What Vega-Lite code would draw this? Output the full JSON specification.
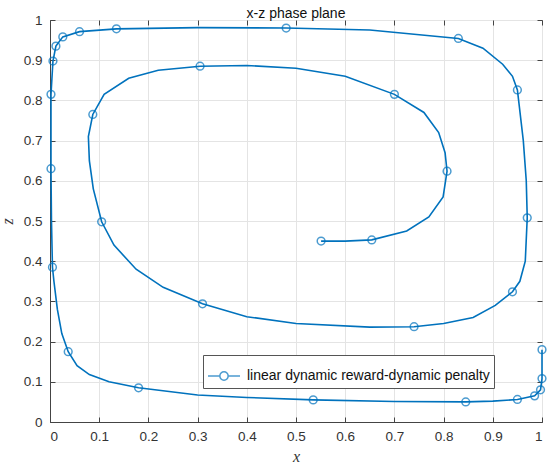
{
  "$schema": "https://vega.github.io/schema/vega-lite/v6.json",
  "autosize": {"type": "none"},
  "padding": {"left": 50, "top": 20, "right": 8, "bottom": 48},
  "width": 492,
  "height": 402,
  "background": "white",
  "title": {
    "text": "x-z phase plane",
    "font": "Liberation Sans",
    "fontSize": 14,
    "fontWeight": "normal",
    "color": "#111111",
    "offset": 4,
    "dy": 12
  },
  "config": {
    "view": {"stroke": "#444444", "strokeWidth": 1},
    "axis": {
      "labelFont": "Liberation Sans",
      "labelFontSize": 13.5,
      "labelColor": "#333333",
      "titleFont": "Liberation Serif",
      "titleFontStyle": "italic",
      "titleFontWeight": "normal",
      "titleFontSize": 16,
      "titleColor": "#333333",
      "domainColor": "#444444",
      "tickColor": "#444444",
      "tickWidth": 1,
      "gridColor": "#e4e4e4",
      "gridWidth": 1
    }
  },
  "datasets": {
    "traj": [
      {"i": 1, "x": 1.0, "z": 0.18, "m": true},
      {"i": 2, "x": 1.0, "z": 0.108, "m": true},
      {"i": 3, "x": 0.997, "z": 0.08, "m": true},
      {"i": 4, "x": 0.985, "z": 0.065, "m": true},
      {"i": 5, "x": 0.95, "z": 0.056, "m": true},
      {"i": 6, "x": 0.9, "z": 0.052, "m": false},
      {"i": 7, "x": 0.845, "z": 0.05, "m": true},
      {"i": 8, "x": 0.7, "z": 0.051, "m": false},
      {"i": 9, "x": 0.535, "z": 0.055, "m": true},
      {"i": 10, "x": 0.4, "z": 0.061, "m": false},
      {"i": 11, "x": 0.3, "z": 0.067, "m": false},
      {"i": 12, "x": 0.18, "z": 0.085, "m": true},
      {"i": 13, "x": 0.12, "z": 0.1, "m": false},
      {"i": 14, "x": 0.08, "z": 0.118, "m": false},
      {"i": 15, "x": 0.055, "z": 0.14, "m": false},
      {"i": 16, "x": 0.037, "z": 0.175, "m": true},
      {"i": 17, "x": 0.024, "z": 0.22, "m": false},
      {"i": 18, "x": 0.015, "z": 0.28, "m": false},
      {"i": 19, "x": 0.008, "z": 0.35, "m": false},
      {"i": 20, "x": 0.005, "z": 0.385, "m": true},
      {"i": 21, "x": 0.003, "z": 0.5, "m": false},
      {"i": 22, "x": 0.002, "z": 0.63, "m": true},
      {"i": 23, "x": 0.002, "z": 0.815, "m": true},
      {"i": 24, "x": 0.006, "z": 0.898, "m": true},
      {"i": 25, "x": 0.012, "z": 0.935, "m": true},
      {"i": 26, "x": 0.026, "z": 0.958, "m": true},
      {"i": 27, "x": 0.06, "z": 0.971, "m": true},
      {"i": 28, "x": 0.135, "z": 0.978, "m": true},
      {"i": 29, "x": 0.3, "z": 0.981, "m": false},
      {"i": 30, "x": 0.48, "z": 0.98, "m": true},
      {"i": 31, "x": 0.65, "z": 0.975, "m": false},
      {"i": 32, "x": 0.83, "z": 0.954, "m": true},
      {"i": 33, "x": 0.88, "z": 0.93, "m": false},
      {"i": 34, "x": 0.92, "z": 0.89, "m": false},
      {"i": 35, "x": 0.94, "z": 0.86, "m": false},
      {"i": 36, "x": 0.95, "z": 0.826, "m": true},
      {"i": 37, "x": 0.962, "z": 0.7, "m": false},
      {"i": 38, "x": 0.968, "z": 0.6, "m": false},
      {"i": 39, "x": 0.97, "z": 0.508, "m": true},
      {"i": 40, "x": 0.966, "z": 0.4, "m": false},
      {"i": 41, "x": 0.955, "z": 0.35, "m": false},
      {"i": 42, "x": 0.94, "z": 0.324, "m": true},
      {"i": 43, "x": 0.905, "z": 0.29, "m": false},
      {"i": 44, "x": 0.86, "z": 0.26, "m": false},
      {"i": 45, "x": 0.8, "z": 0.245, "m": false},
      {"i": 46, "x": 0.74, "z": 0.237, "m": true},
      {"i": 47, "x": 0.65, "z": 0.236, "m": false},
      {"i": 48, "x": 0.5, "z": 0.245, "m": false},
      {"i": 49, "x": 0.4, "z": 0.262, "m": false},
      {"i": 50, "x": 0.31, "z": 0.294, "m": true},
      {"i": 51, "x": 0.23, "z": 0.335, "m": false},
      {"i": 52, "x": 0.175, "z": 0.38, "m": false},
      {"i": 53, "x": 0.13, "z": 0.44, "m": false},
      {"i": 54, "x": 0.105, "z": 0.498, "m": true},
      {"i": 55, "x": 0.088, "z": 0.58, "m": false},
      {"i": 56, "x": 0.08, "z": 0.65, "m": false},
      {"i": 57, "x": 0.078, "z": 0.71, "m": false},
      {"i": 58, "x": 0.087, "z": 0.765, "m": true},
      {"i": 59, "x": 0.11, "z": 0.815, "m": false},
      {"i": 60, "x": 0.16, "z": 0.855, "m": false},
      {"i": 61, "x": 0.22, "z": 0.875, "m": false},
      {"i": 62, "x": 0.305, "z": 0.885, "m": true},
      {"i": 63, "x": 0.4, "z": 0.887, "m": false},
      {"i": 64, "x": 0.5, "z": 0.88, "m": false},
      {"i": 65, "x": 0.6, "z": 0.86, "m": false},
      {"i": 66, "x": 0.7, "z": 0.815, "m": true},
      {"i": 67, "x": 0.76, "z": 0.77, "m": false},
      {"i": 68, "x": 0.79, "z": 0.72, "m": false},
      {"i": 69, "x": 0.803, "z": 0.67, "m": false},
      {"i": 70, "x": 0.807, "z": 0.624, "m": true},
      {"i": 71, "x": 0.799, "z": 0.56, "m": false},
      {"i": 72, "x": 0.77, "z": 0.51, "m": false},
      {"i": 73, "x": 0.725, "z": 0.475, "m": false},
      {"i": 74, "x": 0.654, "z": 0.453, "m": true},
      {"i": 75, "x": 0.6, "z": 0.45, "m": false},
      {"i": 76, "x": 0.551, "z": 0.45, "m": true}
    ]
  },
  "data": {"name": "traj"},
  "encoding": {
    "x": {
      "field": "x", "type": "quantitative",
      "scale": {"domain": [0, 1], "nice": false},
      "axis": {
        "title": "x", "values": [0, 0.1, 0.2, 0.3, 0.4, 0.5, 0.6, 0.7, 0.8, 0.9, 1],
        "format": ".1~f", "tickSize": -5, "labelPadding": 12, "titlePadding": 6,
        "grid": true
      }
    },
    "y": {
      "field": "z", "type": "quantitative",
      "scale": {"domain": [0, 1], "nice": false},
      "axis": {
        "title": "z", "values": [0, 0.1, 0.2, 0.3, 0.4, 0.5, 0.6, 0.7, 0.8, 0.9, 1],
        "format": ".1~f", "tickSize": -5, "labelPadding": 13, "titlePadding": 8,
        "grid": true
      }
    },
    "color": {
      "datum": "linear dynamic reward-dynamic penalty",
      "type": "nominal",
      "scale": {"range": ["#0072BD"]},
      "legend": {
        "title": null,
        "orient": "none",
        "legendX": 153,
        "legendY": 335,
        "symbolType": "M-1,0L-0.26,0M0.26,0L1,0M0.26,0A0.26,0.26 0 1,1 -0.26,0A0.26,0.26 0 1,1 0.26,0",
        "symbolSize": 1024,
        "symbolStrokeWidth": 1.5,
        "symbolFillColor": "transparent",
        "symbolStrokeColor": "#0072BD",
        "labelFont": "Liberation Sans",
        "labelFontSize": 14,
        "labelColor": "#111111",
        "labelLimit": 400,
        "labelOffset": 6,
        "padding": 4,
        "strokeColor": "#555555",
        "fillColor": "white"
      }
    }
  },
  "resolve": {"axis": {"x": "independent", "y": "independent"}},
  "layer": [
    {
      "mark": {"type": "line", "strokeWidth": 1.6, "interpolate": "linear"},
      "encoding": {"order": {"field": "i"}}
    },
    {
      "transform": [{"filter": "datum.m"}],
      "mark": {"type": "point", "shape": "circle", "filled": false, "size": 60, "strokeWidth": 1.5},
      "encoding": {
        "x": {
          "field": "x", "type": "quantitative",
          "axis": {
            "title": null, "labels": false, "domain": false, "grid": false,
            "values": [0, 0.1, 0.2, 0.3, 0.4, 0.5, 0.6, 0.7, 0.8, 0.9, 1],
            "tickSize": -5
          }
        },
        "y": {
          "field": "z", "type": "quantitative",
          "axis": {
            "title": null, "labels": false, "domain": false, "grid": false,
            "values": [0, 0.1, 0.2, 0.3, 0.4, 0.5, 0.6, 0.7, 0.8, 0.9, 1],
            "tickSize": -5
          }
        }
      }
    }
  ]
}
